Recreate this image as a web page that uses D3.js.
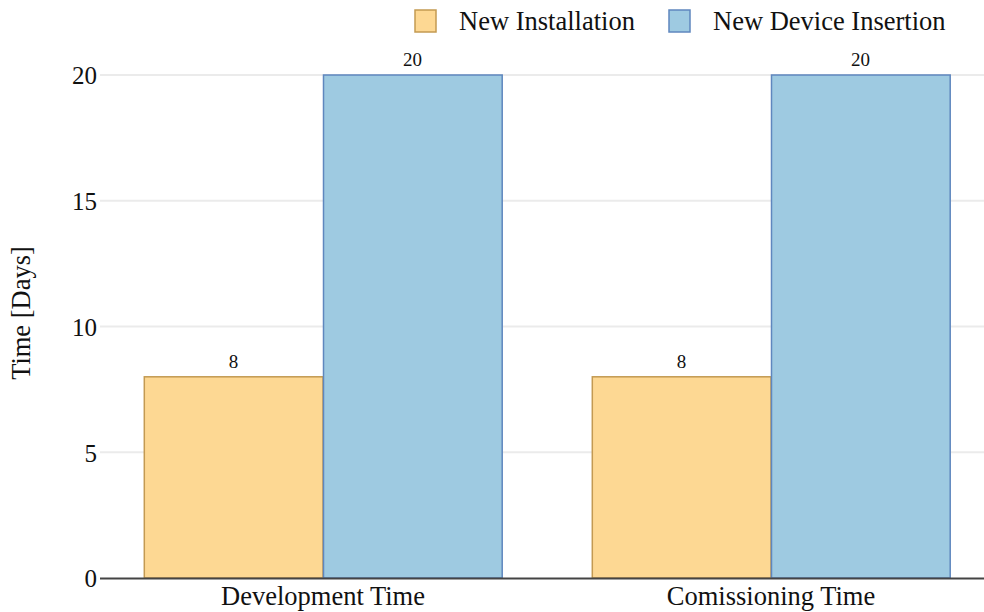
<!DOCTYPE html>
<html><head><meta charset="utf-8">
<script src="https://cdn.jsdelivr.net/npm/d3@7"></script>
<style>body{margin:0;background:#fff}svg{display:block}text{font-family:"Liberation Serif","Times New Roman",serif;fill:#111}</style>
</head><body><svg id="c" width="984" height="612"></svg>
<script>
const categories = ["Development Time", "Comissioning Time"];
const seriesNames = ["New Installation", "New Device Insertion"];
const newInstallation = [8, 8];
const newDeviceInsertion = [20, 20];
const yTicks = [0, 5, 10, 15, 20];
const fills = ["#FDD893", "#9ECAE1"];
const strokes = ["#C39A52", "#5F87BE"];

(function(){
const seriesVals = [newInstallation, newDeviceInsertion];
const svg = d3.select("#c");
const pLeft = 99, pRight = 995, pTop = 75, pBottom = 578;
const x0 = d3.scaleBand().domain(categories).range([pLeft, pRight]).padding(0);
const xs = d3.scaleBand().domain(seriesNames).range([0, x0.bandwidth()*0.8]);
const y = d3.scaleLinear().domain([0, 20]).range([pBottom, pTop]);

// grid
svg.append("g").selectAll("line").data(yTicks.filter(d=>d>0)).join("line")
  .attr("x1", 100).attr("x2", 984).attr("y1", d=>y(d)).attr("y2", d=>y(d))
  .attr("stroke", "#ebebeb").attr("stroke-width", 2);

// y tick labels
const yAxis = d3.axisLeft(y).tickValues(yTicks).tickSize(0).tickPadding(0).tickFormat(d3.format("d"));
const ga = svg.append("g").attr("transform", `translate(97,0)`).call(yAxis);
ga.select(".domain").remove();
ga.selectAll("text").style("font-size","25px").attr("fill","#111").attr("font-family",null).attr("dy","0.35em");

// bars
seriesNames.forEach((s, si) => {
  const g = svg.append("g");
  g.selectAll("rect").data(categories).join("rect")
    .attr("x", (c)=> x0(c) + x0.bandwidth()*0.1 + xs(s) + 0.5)
    .attr("y", (c,i)=> y(seriesVals[si][i]))
    .attr("width", xs.bandwidth() - 0.5)
    .attr("height", (c,i)=> y(0) - y(seriesVals[si][i]))
    .attr("fill", fills[si]).attr("stroke", strokes[si]).attr("stroke-width", 1.5);
  g.selectAll("text").data(categories).join("text")
    .attr("x", (c)=> x0(c) + x0.bandwidth()*0.1 + xs(s) + xs.bandwidth()/2)
    .attr("y", (c,i)=> y(seriesVals[si][i]) - 9)
    .attr("text-anchor","middle").style("font-size","19px")
    .text((c,i)=> seriesVals[si][i]);
});

// x axis
const xAxis = d3.axisBottom(x0).tickSize(0).tickPadding(8);
const gx = svg.append("g").attr("transform", `translate(0,${pBottom})`).call(xAxis);
gx.select(".domain").remove();
gx.selectAll("text").style("font-size","26.5px").attr("fill","#111").attr("font-family",null).attr("dy","0.71em");
svg.append("line").attr("x1",100).attr("x2",984).attr("y1",pBottom+0.5).attr("y2",pBottom+0.5)
  .attr("stroke","#444").attr("stroke-width",2);

// y label
svg.append("text").attr("transform","translate(30,313) rotate(-90)").attr("text-anchor","middle")
  .style("font-size","26.5px").text("Time [Days]");

// legend
const legX = [415, 669];
seriesNames.forEach((s, si) => {
  svg.append("rect").attr("x", legX[si]).attr("y", 10).attr("width", 21).attr("height", 22)
    .attr("fill", fills[si]).attr("stroke", strokes[si]).attr("stroke-width", 1.5);
  svg.append("text").attr("x", legX[si] + 44).attr("y", 30).style("font-size","26.5px").text(s);
});
})();
</script></body></html>
